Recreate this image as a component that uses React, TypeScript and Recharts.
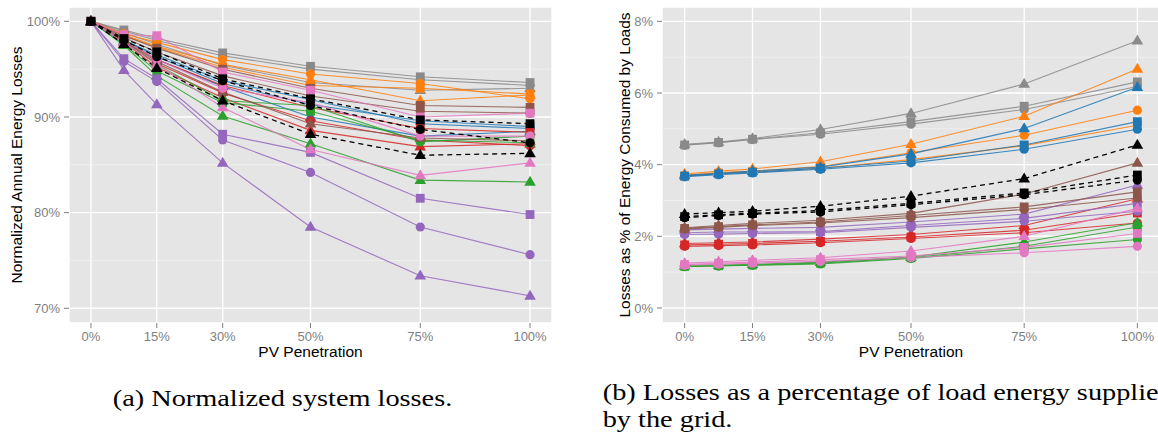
import React from "react"
import { CartesianGrid, Line, LineChart, ReferenceLine, XAxis, YAxis } from "recharts"

// PV penetration levels (%)
const penetration = [0, 7.5, 15, 30, 50, 75, 100]
const xTicks = [0, 15, 30, 50, 75, 100]

// (a) normalized annual energy losses, %  — rows: circle, triangle, square
const normGray = [
  [100, 99.0, 98.0, 96.4, 95.0, 93.9, 93.3],
  [100, 98.8, 97.6, 95.4, 93.6, 92.8, 93.0],
  [100, 99.1, 98.2, 96.7, 95.3, 94.2, 93.6],
]
const normOrange = [
  [100, 98.7, 97.8, 96.0, 94.5, 93.5, 91.9],
  [100, 98.6, 97.4, 95.5, 93.9, 91.7, 92.3],
  [100, 98.5, 97.3, 95.2, 93.3, 93.0, 92.4],
]
const normBlue = [
  [100, 98.0, 96.5, 93.8, 91.8, 89.3, 88.8],
  [100, 97.9, 96.0, 93.2, 90.0, 88.0, 88.5],
  [100, 98.1, 96.3, 93.5, 91.3, 89.6, 89.0],
]
const normRed = [
  [100, 97.9, 95.6, 92.5, 89.6, 87.6, 87.0],
  [100, 97.8, 95.2, 92.0, 88.6, 86.9, 87.2],
  [100, 98.1, 96.0, 93.3, 91.0, 88.8, 88.4],
]
const normGreen = [
  [100, 97.9, 95.5, 91.7, 91.2, 87.4, 88.0],
  [100, 97.5, 94.3, 90.1, 87.2, 83.4, 83.2],
  [100, 97.6, 94.8, 91.5, 90.6, 87.6, 87.3],
]
const normPurple = [
  [100, 95.8, 93.7, 87.6, 84.2, 78.5, 75.6],
  [100, 94.9, 91.3, 85.2, 78.5, 73.4, 71.3],
  [100, 96.1, 94.0, 88.2, 86.3, 81.5, 79.8],
]
const normBrown = [
  [100, 98.3, 96.8, 94.3, 92.2, 90.6, 90.4],
  [100, 98.0, 95.8, 92.6, 89.3, 87.8, 87.5],
  [100, 98.5, 97.2, 95.0, 93.0, 91.2, 91.0],
]
const normPink = [
  [100, 98.0, 96.0, 93.0, 91.5, 88.0, 88.0],
  [100, 97.8, 95.5, 91.0, 86.6, 83.9, 85.2],
  [100, 98.6, 98.5, 94.7, 92.8, 90.0, 90.4],
]
const normBlack = [
  [100, 98.0, 96.3, 93.8, 91.2, 88.7, 87.3],
  [100, 97.6, 95.1, 91.7, 88.2, 86.0, 86.2],
  [100, 98.2, 96.8, 94.0, 91.9, 89.7, 89.3],
]

// (b) losses as % of energy consumed by loads — rows: circle, triangle, square
const shareGray = [
  [4.54, 4.61, 4.70, 4.85, 5.13, 5.54, 6.18],
  [4.57, 4.63, 4.73, 4.98, 5.43, 6.25, 7.46],
  [4.55, 4.62, 4.71, 4.89, 5.20, 5.63, 6.31],
]
const shareOrange = [
  [3.70, 3.78, 3.82, 3.95, 4.33, 4.82, 5.52],
  [3.74, 3.82, 3.88, 4.08, 4.57, 5.35, 6.67],
  [3.68, 3.76, 3.80, 3.90, 4.14, 4.53, 5.10],
]
const shareBlue = [
  [3.66, 3.72, 3.77, 3.87, 4.05, 4.43, 4.99],
  [3.70, 3.76, 3.82, 3.93, 4.30, 5.01, 6.16],
  [3.68, 3.74, 3.79, 3.90, 4.10, 4.55, 5.20],
]
const shareRed = [
  [1.72, 1.74, 1.76, 1.82, 1.94, 2.10, 2.37],
  [1.80, 1.82, 1.84, 1.92, 2.05, 2.30, 3.05],
  [1.76, 1.78, 1.80, 1.86, 1.98, 2.17, 2.65],
]
const shareGreen = [
  [1.15, 1.17, 1.19, 1.23, 1.38, 1.65, 1.91],
  [1.18, 1.20, 1.22, 1.28, 1.42, 1.84, 2.38],
  [1.16, 1.18, 1.20, 1.25, 1.40, 1.72, 2.26],
]
const sharePurple = [
  [2.05, 2.06, 2.08, 2.10, 2.25, 2.42, 2.70],
  [2.18, 2.20, 2.22, 2.25, 2.40, 2.62, 3.43],
  [2.10, 2.12, 2.12, 2.13, 2.30, 2.50, 2.92],
]
const shareBrown = [
  [2.20, 2.25, 2.30, 2.37, 2.52, 2.75, 3.07],
  [2.24, 2.30, 2.36, 2.45, 2.64, 3.18, 4.05],
  [2.22, 2.27, 2.32, 2.40, 2.58, 2.82, 3.24],
]
const sharePink = [
  [1.19, 1.22, 1.25, 1.30, 1.41, 1.54, 1.72],
  [1.25, 1.29, 1.33, 1.40, 1.59, 2.00, 2.78],
  [1.21, 1.25, 1.28, 1.35, 1.45, 1.69, 2.08],
]
const shareBlack = [
  [2.52, 2.58, 2.62, 2.68, 2.88, 3.16, 3.57],
  [2.62, 2.66, 2.70, 2.84, 3.12, 3.61, 4.55],
  [2.55, 2.60, 2.64, 2.72, 2.92, 3.21, 3.71],
]

const normTicks = [70, 80, 90, 100]
const normMinor = [75, 85, 95]
const shareTicks = [0, 2, 4, 6, 8]
const shareMinor = [1, 3, 5, 7]

const colors = ["#8a8a8a", "#ff7f0e", "#1f77b4", "#d62728", "#2ca02c", "#9467bd", "#8c564b", "#e377c2", "#000000"]
const shapes = ["circle", "triangle", "square"]

const normGroups = [normGray, normOrange, normBlue, normRed, normGreen, normPurple, normBrown, normPink, normBlack]
const shareGroups = [shareGray, shareOrange, shareBlue, shareRed, shareGreen, sharePurple, shareBrown, sharePink, shareBlack]

const buildRows = (groups: number[][][]) =>
  penetration.map((x, j) => {
    const row: any = { x }
    groups.forEach((g, gi) => g.forEach((arr, si) => (row[`s${gi}_${si}`] = arr[j])))
    return row
  })

const normRows = buildRows(normGroups)
const shareRows = buildRows(shareGroups)

const renderMarker = (p: any, shape: string, color: string) => {
  const { cx, cy, index } = p
  if (cx == null || cy == null) return <g key={index} />
  if (shape === "circle") return <circle key={index} cx={cx} cy={cy} r={4.6} fill={color} />
  if (shape === "square") return <rect key={index} x={cx - 4.4} y={cy - 4.4} width={8.8} height={8.8} fill={color} />
  return (
    <path
      key={index}
      d={`M${cx},${cy - 6.2}L${cx + 5.8},${cy + 3.8}L${cx - 5.8},${cy + 3.8}Z`}
      fill={color}
    />
  )
}

const tickStyle = { fill: "#7f7f7f", fontSize: 13, fontFamily: "Liberation Sans, Arial, sans-serif" }
const titleStyle = { fill: "#000", fontSize: 15.5, fontFamily: "Liberation Sans, Arial, sans-serif", textAnchor: "middle" as const }

function Panel({
  rows,
  domain,
  ticks,
  minor,
  yTitle,
  yWidth,
  titleOffset,
  width,
  fmt,
}: {
  rows: any[]
  domain: number[]
  ticks: number[]
  minor: number[]
  yTitle: string
  yWidth: number
  titleOffset: number
  width: number
  fmt: (v: number) => string
}) {
  const series: { key: string; color: string; shape: string; dashed: boolean }[] = []
  colors.forEach((c, gi) =>
    shapes.forEach((s, si) => series.push({ key: `s${gi}_${si}`, color: c, shape: s, dashed: gi === 8 }))
  )
  return (
    <LineChart width={width} height={365} data={rows} margin={{ top: 7, right: 0, bottom: 0, left: 0 }}>
      <CartesianGrid fill="#e5e5e5" stroke="#ffffff" strokeWidth={1.4} />
      {minor.map((m) => (
        <ReferenceLine key={m} y={m} stroke="#f5f5f5" strokeWidth={0.7} />
      ))}
      <XAxis
        type="number"
        dataKey="x"
        domain={[-5, 105]}
        ticks={xTicks}
        tickFormatter={(v) => `${v}%`}
        axisLine={false}
        tickLine={{ stroke: "#7f7f7f" }}
        tickSize={5}
        tickMargin={4}
        tick={tickStyle}
        height={42}
        interval={0}
        label={{ value: "PV Penetration", position: "insideBottom", offset: 8, style: titleStyle }}
      />
      <YAxis
        type="number"
        domain={domain}
        ticks={ticks}
        tickFormatter={fmt}
        axisLine={false}
        tickLine={{ stroke: "#7f7f7f" }}
        tickSize={5}
        tickMargin={4}
        tick={tickStyle}
        width={yWidth}
        interval={0}
        allowDataOverflow
        label={{ value: yTitle, angle: -90, position: "insideLeft", offset: titleOffset, style: titleStyle }}
      />
      {series.map((s) => (
        <Line
          key={s.key}
          dataKey={s.key}
          type="linear"
          stroke={s.color}
          strokeWidth={s.dashed ? 1.3 : 1.1}
          strokeOpacity={s.dashed ? 1 : 0.85}
          strokeDasharray={s.dashed ? "5 4" : undefined}
          dot={(p: any) => renderMarker(p, s.shape, s.color)}
          activeDot={false}
          isAnimationActive={false}
        />
      ))}
    </LineChart>
  )
}

const captionFont = { fontFamily: "Liberation Serif, Times New Roman, serif", fontSize: 24, fill: "#000" }

export default function App() {
  return (
    <div style={{ position: "absolute", left: 0, top: 0, width: 1158, height: 445, overflow: "hidden", background: "#fff" }}>
      <div style={{ position: "absolute", left: 0, top: 0 }}>
        <Panel
          rows={normRows}
          domain={[68.46, 101.5]}
          ticks={normTicks}
          minor={normMinor}
          yTitle="Normalized Annual Energy Losses"
          yWidth={69}
          titleOffset={16}
          width={552}
          fmt={(v) => `${v}%`}
        />
      </div>
      <div style={{ position: "absolute", left: 580, top: 0 }}>
        <Panel
          rows={shareRows}
          domain={[-0.42, 8.4]}
          ticks={shareTicks}
          minor={shareMinor}
          yTitle="Losses as % of Energy Consumed by Loads"
          yWidth={82}
          titleOffset={44}
          width={580}
          fmt={(v) => `${v}%`}
        />
      </div>
      <svg width={1158} height={445} style={{ position: "absolute", left: 0, top: 0, pointerEvents: "none" }}>
        <g transform="translate(112.7,406) scale(1.18,1)">
          <text x={0} y={0} style={captionFont}>(a) Normalized system losses.</text>
        </g>
        <g transform="translate(602.7,400) scale(1.18,1)">
          <text x={0} y={0} style={captionFont}>(b) Losses as a percentage of load energy supplied</text>
        </g>
        <g transform="translate(602.7,427) scale(1.18,1)">
          <text x={0} y={0} style={captionFont}>by the grid.</text>
        </g>
      </svg>
    </div>
  )
}
